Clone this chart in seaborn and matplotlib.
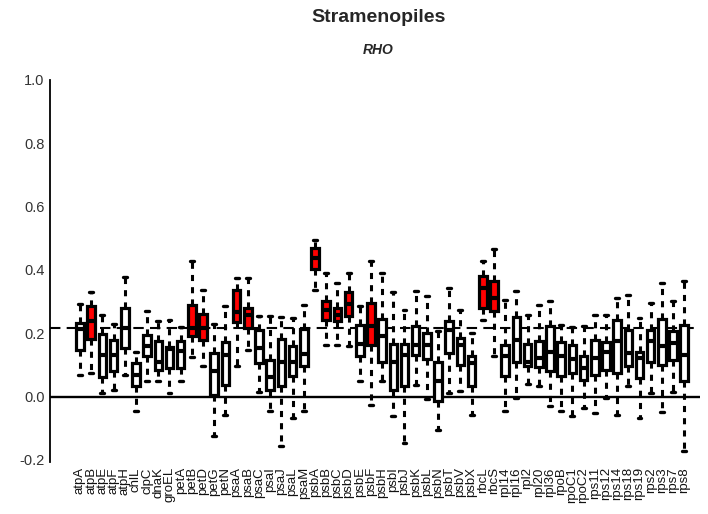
import numpy as np
import pandas as pd
import matplotlib
matplotlib.use("Agg")
import matplotlib.pyplot as plt
import seaborn as sns

genes = ["atpA", "atpB", "atpE", "atpF", "atpH", "chlL", "clpC", "dnaK", "groEL",
         "petA", "petB", "petD", "petG", "petN", "psaA", "psaB", "psaC", "psaI",
         "psaJ", "psaL", "psaM", "psbA", "psbB", "psbC", "psbD", "psbE", "psbF",
         "psbH", "psbI", "psbJ", "psbK", "psbL", "psbN", "psbT", "psbV", "psbX",
         "rbcL", "rbcS", "rpl14", "rpl16", "rpl2", "rpl20", "rpl36", "rpoB",
         "rpoC1", "rpoC2", "rps11", "rps12", "rps14", "rps18", "rps19", "rps2",
         "rps3", "rps7", "rps8"]

whisker_low = [0.069, 0.075, 0.010, 0.022, 0.069, -0.046, 0.048, 0.048, 0.012,
               0.048, 0.126, 0.096, -0.125, -0.057, 0.096, 0.148, 0.014, -0.046,
               -0.157, -0.067, -0.044, 0.338, 0.164, 0.164, 0.159, 0.048, -0.025,
               0.048, -0.062, -0.146, 0.038, -0.007, -0.104, 0.012, 0.017, -0.057,
               0.243, 0.127, -0.046, -0.004, 0.041, 0.033, -0.031, -0.046,
               -0.060, -0.036, -0.052, -0.004, -0.057, 0.035, -0.067, 0.012,
               -0.049, 0.014, -0.172]
q1 = [0.148, 0.183, 0.061, 0.082, 0.155, 0.033, 0.127, 0.085, 0.091,
      0.091, 0.190, 0.180, 0.004, 0.038, 0.235, 0.217, 0.106, 0.022,
      0.035, 0.064, 0.098, 0.403, 0.241, 0.238, 0.255, 0.129, 0.164,
      0.108, 0.022, 0.033, 0.132, 0.119, -0.015, 0.138, 0.101, 0.033,
      0.280, 0.269, 0.064, 0.111, 0.098, 0.094, 0.080, 0.066,
      0.074, 0.054, 0.069, 0.085, 0.074, 0.098, 0.059, 0.111,
      0.101, 0.117, 0.048]
median = [0.215, 0.240, 0.132, 0.132, 0.218, 0.069, 0.159, 0.111, 0.151,
          0.143, 0.218, 0.218, 0.080, 0.132, 0.266, 0.259, 0.154, 0.062,
          0.108, 0.111, 0.136, 0.438, 0.274, 0.259, 0.293, 0.166, 0.222,
          0.190, 0.108, 0.132, 0.164, 0.164, 0.048, 0.211, 0.164, 0.106,
          0.343, 0.311, 0.129, 0.180, 0.111, 0.122, 0.140, 0.127,
          0.119, 0.090, 0.122, 0.140, 0.175, 0.138, 0.122, 0.175,
          0.159, 0.169, 0.132]
q3 = [0.232, 0.285, 0.198, 0.180, 0.280, 0.107, 0.196, 0.177, 0.158,
      0.175, 0.290, 0.262, 0.138, 0.171, 0.338, 0.280, 0.211, 0.117,
      0.182, 0.161, 0.213, 0.469, 0.303, 0.280, 0.330, 0.227, 0.295,
      0.245, 0.166, 0.166, 0.224, 0.201, 0.108, 0.238, 0.185, 0.127,
      0.380, 0.364, 0.164, 0.251, 0.167, 0.175, 0.222, 0.171,
      0.164, 0.129, 0.180, 0.171, 0.243, 0.211, 0.140, 0.211,
      0.245, 0.208, 0.227]
whisker_high = [0.292, 0.332, 0.259, 0.230, 0.379, 0.142, 0.269, 0.240, 0.243,
                0.221, 0.427, 0.338, 0.229, 0.285, 0.376, 0.376, 0.255, 0.255,
                0.251, 0.248, 0.290, 0.495, 0.392, 0.359, 0.392, 0.287, 0.427,
                0.390, 0.330, 0.274, 0.334, 0.319, 0.206, 0.343, 0.274, 0.201,
                0.427, 0.466, 0.306, 0.335, 0.259, 0.290, 0.301, 0.227,
                0.219, 0.222, 0.259, 0.259, 0.311, 0.322, 0.248, 0.297,
                0.359, 0.301, 0.364]

highlighted = ["atpB", "petB", "petD", "psaA", "psaB", "psbA", "psbB", "psbC",
               "psbD", "psbF", "rbcL", "rbcS"]

reference_rho = 0.217

# Five-number summary per gene as a long table
rows = []
for i, g in enumerate(genes):
    for v in (whisker_low[i], q1[i], median[i], q3[i], whisker_high[i]):
        rows.append({"gene": g, "rho": v, "flag": g in highlighted})
df = pd.DataFrame(rows)

sns.set_style("white")
plt.rcParams["font.family"] = ["Liberation Sans", "DejaVu Sans"]

fig = plt.figure(figsize=(7.08, 5.14), dpi=100)
ax = fig.add_axes([0.0706, 0.102, 0.918, 0.7455])

ax.axhline(0, color="black", lw=1.7, zorder=0)
ax.axhline(reference_rho, color="black", lw=1.5, ls=(0, (5, 3)), zorder=0)

sns.boxplot(data=df, x="gene", y="rho", order=genes, hue="flag",
            palette={True: "#ff0000", False: "white"}, saturation=1,
            dodge=False, legend=False, whis=np.inf, width=0.68,
            linecolor="black", linewidth=2.3, ax=ax, capwidths=0.35,
            whiskerprops=dict(linestyle=(0, (2.0, 2.0)), linewidth=2.2),
            capprops=dict(linewidth=2.4),
            medianprops=dict(linewidth=3.0, color="black"))

ax.set_xlim(-2.68, 55.4)
ax.set_ylim(-0.205, 1.005)
ax.set_yticks([-0.2, 0.0, 0.2, 0.4, 0.6, 0.8, 1.0])
ax.set_yticklabels(["-0.2", "0.0", "0.2", "0.4", "0.6", "0.8", "1.0"])
ax.set_xlabel("")
ax.set_ylabel("")

for s in ["top", "right", "bottom"]:
    ax.spines[s].set_visible(False)
ax.spines["left"].set_color("black")
ax.spines["left"].set_linewidth(1.3)
ax.spines["left"].set_bounds(-0.205, 1.0)

ax.tick_params(axis="y", length=0, labelsize=10.5, labelcolor="#333333", pad=4)
ax.tick_params(axis="x", length=0, labelsize=9.5, labelcolor="#111111", pad=4,
               rotation=90)

fig.text(0.534, 0.965, "Stramenopiles", ha="center", va="center",
         fontsize=14, fontweight="bold")
fig.text(0.534, 0.902, "RHO", ha="center", va="center", fontsize=10,
         fontweight="bold", fontstyle="italic")

fig.savefig("out.png", dpi=100)
